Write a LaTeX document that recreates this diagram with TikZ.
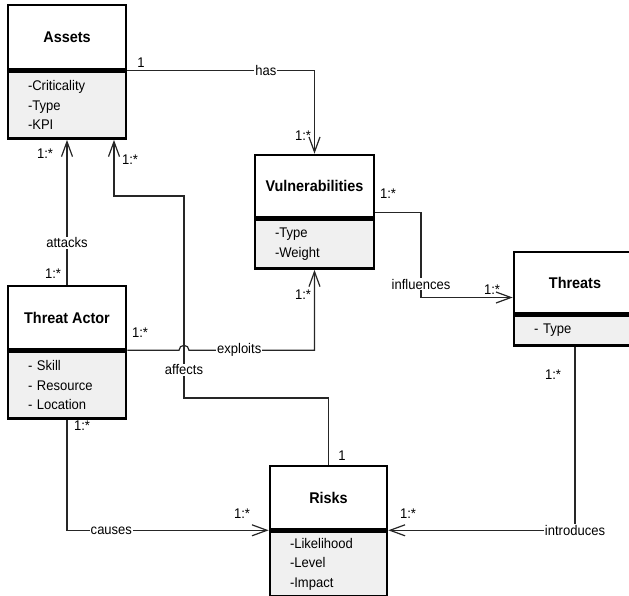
\documentclass[tikz,border=0pt]{standalone}
\usepackage{fontspec}
\setmainfont[FakeStretch=0.93]{Liberation Sans}
\usetikzlibrary{arrows.meta}

\begin{document}
\begin{tikzpicture}[x=1pt,y=-1pt,
    head/.style={draw,line width=2.6pt,inner sep=0pt,
        font=\fontsize{15.5}{18}\selectfont\bfseries},
    attr/.style={draw,line width=2.6pt,fill=black!6,anchor=north,inner xsep=20pt,
        inner ysep=0pt,align=left,font=\fontsize{14}{19.5}\selectfont},
    link/.style={draw=black!85,line width=1.2pt},
    assoc/.style={link,-{Straight Barb[length=15pt,width=11pt]}},
    lab/.style={fill=white,inner sep=1pt,font=\fontsize{14}{16}\selectfont},
    mult/.style={inner sep=0pt,font=\fontsize{14}{16}\selectfont}]

    \useasboundingbox (0,0) rectangle (629,596);

    % classes
    \node[head,minimum width=118pt,minimum height=64pt] (assetsT) at (67,37) {Assets};
    \node[attr,minimum width=118pt,text width=78pt,minimum height=67pt] (assetsA) at (assetsT.south)
        {-Criticality\\-Type\\-KPI};

    \node[head,minimum width=119pt,minimum height=62pt] (vulnT) at (314.5,186) {Vulnerabilities};
    \node[attr,minimum width=119pt,text width=79pt,minimum height=49pt] (vulnA) at (vulnT.south)
        {-Type\\-Weight};

    \node[head,minimum width=122pt,minimum height=61pt] (threatsT) at (575,282.5) {Threats};
    \node[attr,minimum width=122pt,text width=82pt,minimum height=30pt] (threatsA) at (threatsT.south)
        {- Type};

    \node[head,minimum width=118pt,minimum height=63pt] (actorT) at (67,317.5) {Threat Actor};
    \node[attr,minimum width=118pt,text width=78pt,minimum height=67pt] (actorA) at (actorT.south)
        {- Skill\\- Resource\\- Location};

    \node[head,minimum width=117pt,minimum height=63pt] (risksT) at (328.5,497.5) {Risks};
    \node[attr,minimum width=117pt,text width=77pt,minimum height=65pt] (risksA) at (risksT.south)
        {-Likelihood\\-Level\\-Impact};

    % corners
    \coordinate (affA) at (184,398);
    \coordinate (affB) at (184,196);
    \coordinate (infl) at (421,250);

    % associations
    \draw[assoc] (assetsT.south east) -| node[lab,pos=0.37] (hasL) {has} (vulnT.north);
    \draw[assoc] (actorT.north) -- node[lab,pos=0.29] (attL) {attacks} (assetsA.south);
    \draw[assoc] (risksT.north) |- (affA) -- node[lab,pos=0.14] (affL) {affects} (affB)
        -| ([xshift=47pt]assetsA.south);
    \draw[assoc] (actorT.south east) -- ([xshift=-5pt]actorT.south east -| affA)
        arc[start angle=180,end angle=0,radius=5pt]
        -| node[lab,pos=0.2] (expL) {exploits} (vulnA.south);
    \draw[assoc] ([yshift=6pt]vulnT.south east) -| (infl)
        |- node[lab,pos=0.36] (inflL) {influences} ([yshift=-15pt]threatsT.west);
    \draw[assoc] (threatsA.south) |- node[lab,pos=0.5] (introL) {introduces} (risksT.south east);
    \draw[assoc] (actorA.south) |- node[lab,pos=0.61] (causL) {causes} (risksT.south west);

    % multiplicities
    \node[mult] (m1) at (141,63) {1};
    \node[mult] (m2) at (303,136) {1:*};
    \node[mult] (m3) at (45,154) {1:*};
    \node[mult] (m4) at (130,160) {1:*};
    \node[mult] (m5) at (53,274) {1:*};
    \node[mult] (m6) at (140,333) {1:*};
    \node[mult] (m7) at (303,295) {1:*};
    \node[mult] (m8) at (388,194) {1:*};
    \node[mult] (m9) at (492,290) {1:*};
    \node[mult] (m10) at (553,375) {1:*};
    \node[mult] (m11) at (342,456) {1};
    \node[mult] (m12) at (82,426) {1:*};
    \node[mult] (m13) at (242,514) {1:*};
    \node[mult] (m14) at (408,514) {1:*};
\end{tikzpicture}
\end{document}
